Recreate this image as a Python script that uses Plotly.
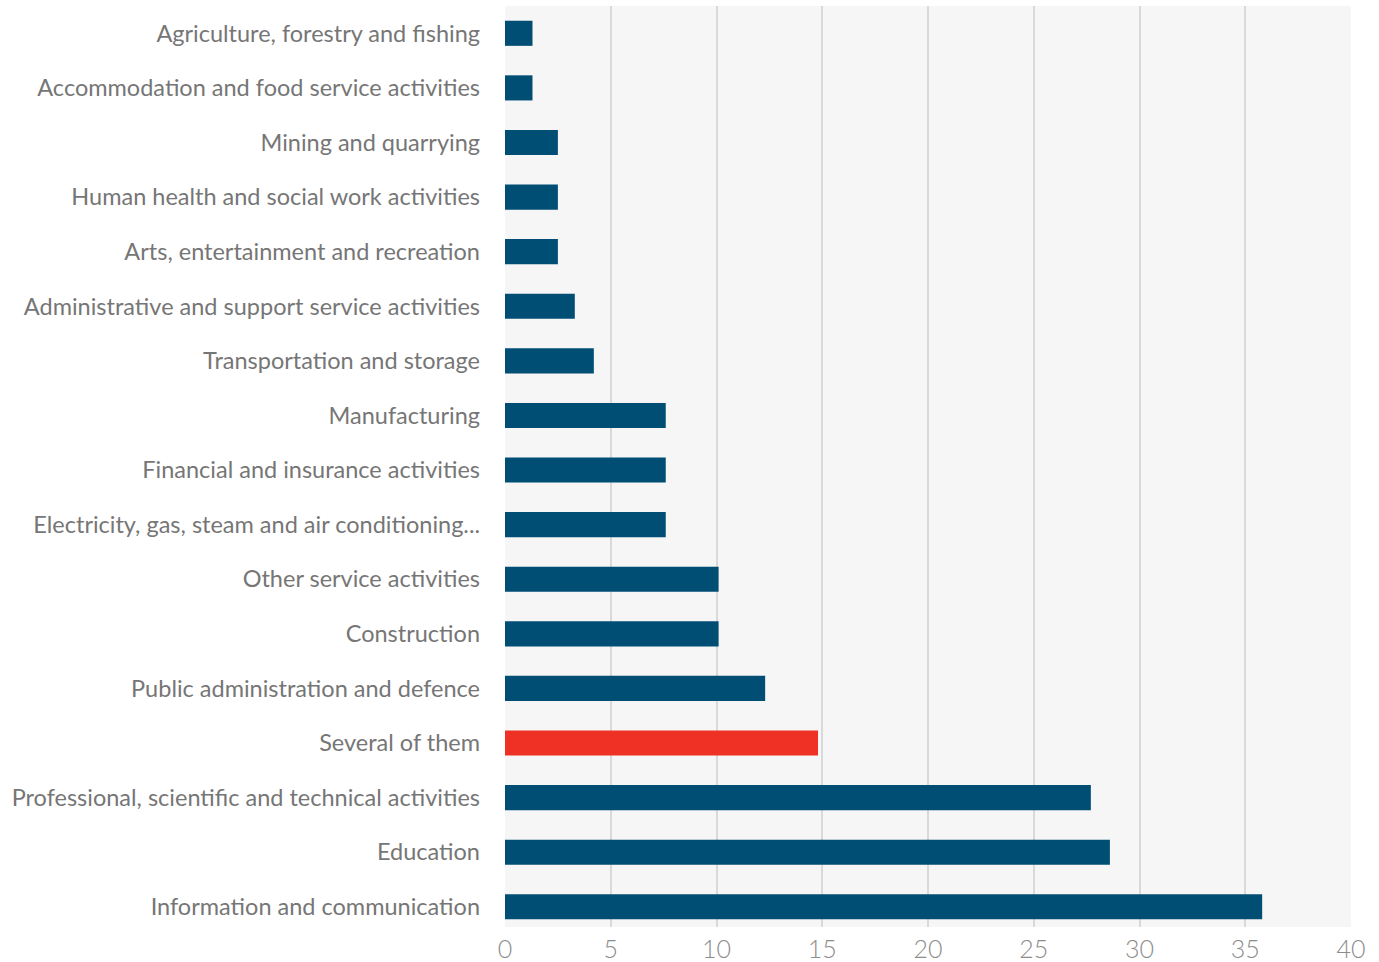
import plotly.graph_objects as go

# Sectors listed top to bottom, with share of respondents (%)
sectors = [
    "Agriculture, forestry and fishing",
    "Accommodation and food service activities",
    "Mining and quarrying",
    "Human health and social work activities",
    "Arts, entertainment and recreation",
    "Administrative and support service activities",
    "Transportation and storage",
    "Manufacturing",
    "Financial and insurance activities",
    "Electricity, gas, steam and air conditioning...",
    "Other service activities",
    "Construction",
    "Public administration and defence",
    "Several of them",
    "Professional, scientific and technical activities",
    "Education",
    "Information and communication",
]
shares = [1.3, 1.3, 2.5, 2.5, 2.5, 3.3, 4.2, 7.6, 7.6, 7.6,
          10.1, 10.1, 12.3, 14.8, 27.7, 28.6, 35.8]

x_ticks = [0, 5, 10, 15, 20, 25, 30, 35, 40]

BLUE = "#004E73"
RED = "#EE3124"
bar_colors = [RED if s == "Several of them" else BLUE for s in sectors]

fig = go.Figure(
    go.Bar(
        x=shares,
        y=sectors,
        orientation="h",
        marker=dict(color=bar_colors, line=dict(width=0)),
        hoverinfo="x+y",
    )
)

fig.update_layout(
    width=1379,
    height=962,
    margin=dict(l=505, r=28, t=6, b=35),
    paper_bgcolor="white",
    plot_bgcolor="#F6F6F6",
    bargap=0.54,
    showlegend=False,
    font=dict(family="Lato, Open Sans, sans-serif"),
)

fig.update_xaxes(
    range=[0, 40],
    tickvals=x_ticks,
    ticktext=[str(t) for t in x_ticks],
    showgrid=True,
    gridcolor="#D9D9D9",
    gridwidth=1.5,
    zeroline=False,
    showline=False,
    ticks="",
    automargin=False,
    ticklabelstandoff=5,
    tickfont=dict(family="Lato, sans-serif", size=25, color="#8C8C8C", weight=300),
)

# Category axis: last row sits a little closer to the bottom edge
n = len(sectors)
fig.update_yaxes(
    range=[n - 0.63, -0.5],
    showgrid=False,
    zeroline=False,
    showline=False,
    ticks="",
    automargin=False,
    ticklabelstandoff=24,
    tickfont=dict(family="Lato, sans-serif", size=23.5, color="#767676"),
)

fig.write_html("out.html")
